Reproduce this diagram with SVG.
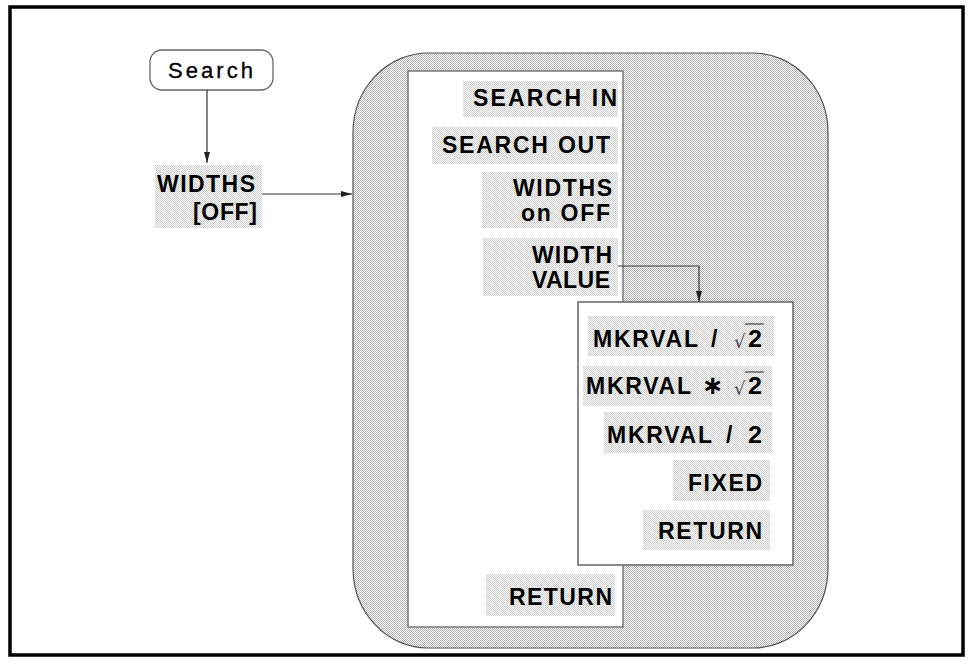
<svg xmlns="http://www.w3.org/2000/svg" width="973" height="664" viewBox="0 0 973 664">
<style>
.t{font-family:"Liberation Sans",Arial,sans-serif;font-weight:bold;font-size:23px;fill:#000}
.r{font-family:"Liberation Sans",Arial,sans-serif;font-size:22px;fill:#000;stroke:#000;stroke-width:0.3}
.sq{font-family:"DejaVu Sans","Liberation Sans",sans-serif;font-size:18px;fill:#444}
.bg{fill:url(#lt)}
.con{fill:none;stroke:#333;stroke-width:1.2}
.ov{stroke:#444;stroke-width:1.2}
</style>
<defs>
<pattern id="dk" width="2" height="2" patternUnits="userSpaceOnUse"><rect width="2" height="2" fill="#fff"/><rect width="1" height="1" fill="#b2b2b2"/><rect x="1" y="1" width="1" height="1" fill="#b2b2b2"/></pattern>
<pattern id="lt" width="2" height="2" patternUnits="userSpaceOnUse"><rect width="2" height="2" fill="#fff"/><rect width="1" height="1" fill="#cdcdcd"/><rect x="1" y="1" width="1" height="1" fill="#cdcdcd"/></pattern>
<marker id="ah" markerUnits="userSpaceOnUse" markerWidth="11" markerHeight="7" refX="11" refY="3.5" orient="auto"><path d="M0,0.5 L11,3.5 L0,6.5 z" fill="#222"/></marker>
</defs>
<rect x="10" y="7" width="953" height="648" fill="#fff" stroke="#000" stroke-width="3.5"/>

<g id="search">
<rect x="150" y="50" width="123" height="40" rx="12" ry="12" fill="#fff" stroke="#666" stroke-width="1.3"/>
<text class="r" x="168" y="78" textLength="85" lengthAdjust="spacing">Search</text>
</g>

<g id="widths-off">
<rect class="bg" x="155" y="165" width="107" height="63"/>
<text class="t" x="157" y="192" textLength="98" lengthAdjust="spacing">WIDTHS</text>
<text class="t" x="193" y="220" textLength="64" lengthAdjust="spacing">[OFF]</text>
</g>

<g id="region">
<rect x="353" y="53" width="475" height="595" rx="75" ry="80" fill="url(#dk)" stroke="#555" stroke-width="1.2"/>
</g>

<g id="menu-main">
<rect x="408" y="71" width="215" height="556" fill="#fff" stroke="#777" stroke-width="1.5"/>
<rect class="bg" x="463" y="81" width="155" height="36"/>
<text class="t" x="473" y="106" textLength="144" lengthAdjust="spacing">SEARCH IN</text>
<rect class="bg" x="432" y="127" width="186" height="37"/>
<text class="t" x="442" y="153" textLength="168" lengthAdjust="spacing">SEARCH OUT</text>
<rect class="bg" x="482" y="172" width="136" height="56"/>
<text class="t" x="513" y="196" textLength="99" lengthAdjust="spacing">WIDTHS</text>
<text class="t" x="521" y="221" textLength="89" lengthAdjust="spacing">on OFF</text>
<rect class="bg" x="483" y="238" width="135" height="58"/>
<text class="t" x="532" y="263" textLength="80" lengthAdjust="spacing">WIDTH</text>
<text class="t" x="532" y="288" textLength="78" lengthAdjust="spacing">VALUE</text>
<rect class="bg" x="486" y="574" width="129" height="42"/>
<text class="t" x="509" y="605" textLength="103" lengthAdjust="spacing">RETURN</text>
</g>

<g id="menu-width">
<rect x="578" y="302" width="215" height="263" fill="#fff" stroke="#666" stroke-width="1.5"/>
<rect class="bg" x="588" y="316" width="186" height="40"/>
<text class="t" x="593" y="347" textLength="105" lengthAdjust="spacing">MKRVAL</text>
<text class="t" x="711" y="347">/</text>
<text class="sq" x="734" y="348">√</text>
<text class="t" x="748" y="347" textLength="14" lengthAdjust="spacingAndGlyphs">2</text>
<line class="ov" x1="745" y1="324" x2="764" y2="324"/>

<rect class="bg" x="583" y="366" width="189" height="40"/>
<text class="t" x="586" y="394" textLength="105" lengthAdjust="spacing">MKRVAL</text>
<text class="t" x="713" y="394" text-anchor="middle" style="font-family:'DejaVu Sans',sans-serif;font-size:26px">∗</text>
<text class="sq" x="734" y="395">√</text>
<text class="t" x="748" y="394" textLength="14" lengthAdjust="spacingAndGlyphs">2</text>
<line class="ov" x1="745" y1="372" x2="764" y2="372"/>

<rect class="bg" x="604" y="412" width="168" height="41"/>
<text class="t" x="607" y="443" textLength="105" lengthAdjust="spacing">MKRVAL</text>
<text class="t" x="726" y="443">/</text>
<text class="t" x="748" y="443" textLength="14" lengthAdjust="spacingAndGlyphs">2</text>

<rect class="bg" x="673" y="460" width="97" height="41"/>
<text class="t" x="688" y="491" textLength="74" lengthAdjust="spacing">FIXED</text>
<rect class="bg" x="643" y="510" width="127" height="40"/>
<text class="t" x="658" y="539" textLength="104" lengthAdjust="spacing">RETURN</text>
</g>

<g id="connectors">
<line class="con" x1="207" y1="90" x2="207" y2="163" marker-end="url(#ah)"/>
<line class="con" x1="262" y1="194" x2="352" y2="194" marker-end="url(#ah)"/>
<polyline class="con" points="618,266 699,266 699,302" marker-end="url(#ah)"/>
</g>
</svg>
